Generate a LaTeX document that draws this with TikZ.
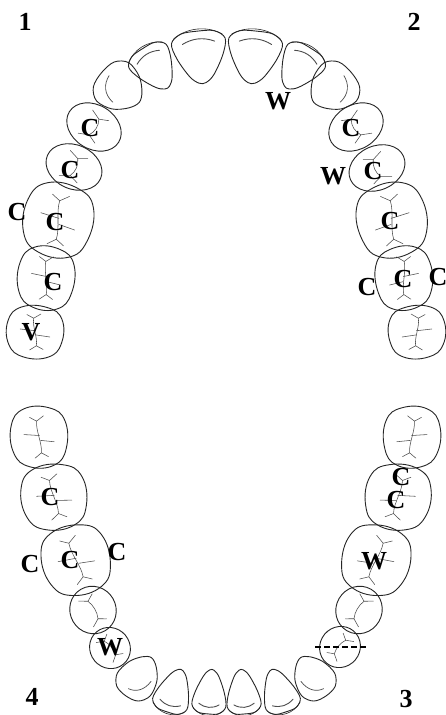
\documentclass[tikz,border=0pt]{standalone}
\usepackage{fontspec}
\setmainfont{Liberation Serif}
\newcommand\dMolar[5]{\begin{scope}[shift={(#1,#2)},rotate=#3,xscale=#4,yscale=#5]
\draw[toothline] plot[smooth cycle,tension=0.75] coordinates {(-1,-0.42)(-0.5,-0.97)(0.45,-1)(1,-0.5)(0.98,0.45)(0.5,1)(-0.45,0.98)(-1,0.5)};
\draw[fiss] (-0.55,0.05) .. controls (-0.2,0.1) and (0.2,-0.1) .. (0.55,-0.05);
\draw[fiss] (-0.55,0.05) -- (-0.72,-0.2) (-0.55,0.05) -- (-0.7,0.3);
\draw[fiss] (0.55,-0.05) -- (0.7,-0.3) (0.55,-0.05) -- (0.72,0.22);
\draw[fiss] (0.05,0.02) -- (0.12,-0.55);
\draw[fiss] (-0.12,0.05) -- (-0.2,0.55);
\end{scope}}
\newcommand\dPremolar[5]{\begin{scope}[shift={(#1,#2)},rotate=#3,xscale=#4,yscale=#5]
\draw[toothline] (0,0) circle[radius=1];
\draw[fiss] (-0.42,0) .. controls (-0.15,0.12) and (0.15,0.12) .. (0.42,0);
\draw[fiss] (-0.42,0) -- (-0.62,-0.35) (-0.42,0) -- (-0.6,0.32) (0.42,0) -- (0.62,-0.35) (0.42,0) -- (0.6,0.32);
\end{scope}}
\newcommand\dIncisor[5]{\begin{scope}[shift={(#1,#2)},rotate=#3,xscale=#4,yscale=#5]
\draw[toothline] plot[smooth cycle,tension=0.55] coordinates {(-1,-0.62)(-0.62,-0.95)(0,-1)(0.62,-0.95)(1,-0.62)(0.85,0)(0.45,0.72)(0.13,1)(-0.13,1)(-0.45,0.72)(-0.85,0)};
\draw[toothline,line width=0.6pt] (-0.92,-0.78) .. controls (-0.4,-1.18) and (0.4,-1.18) .. (0.92,-0.78);
\draw[fiss,line width=0.9pt] (-0.6,-0.55) .. controls (-0.2,-0.75) and (0.2,-0.75) .. (0.6,-0.55);
\end{scope}}
\newcommand\dCanine[5]{\begin{scope}[shift={(#1,#2)},rotate=#3,xscale=#4,yscale=#5]
\draw[toothline] plot[smooth cycle,tension=0.55] coordinates {(-1,-0.4)(-0.65,-0.88)(0,-1)(0.65,-0.88)(1,-0.4)(0.85,0.3)(0.45,0.8)(0.05,1)(-0.4,0.8)(-0.85,0.3)};
\draw[fiss,line width=0.7pt] (-0.62,0.15) .. controls (-0.6,-0.35) and (-0.3,-0.62) .. (0.1,-0.68);
\end{scope}}
\begin{document}
\begin{tikzpicture}[x=1pt,y=-1pt,
  toothline/.style={line width=0.9pt,draw=black!85,line join=round},
  fiss/.style={line width=0.55pt,draw=black!70,line cap=round},
  lab/.style={font=\fontsize{26}{26}\selectfont\bfseries,inner sep=0pt}]
\fill[white] (0,0) rectangle (446,715);
\useasboundingbox (0,0) rectangle (446,715);
\clip (0,0) rectangle (446,715);
% upper arch
\dIncisor{200}{57}{6}{27}{26}
\dIncisor{254}{57}{-6}{-27}{26}
\dIncisor{155}{68}{32}{22}{23}
\dIncisor{299}{68}{-32}{-22}{23}
\dCanine{120}{88}{50}{25}{24}
\dCanine{333}{88}{-50}{-25}{24}
\dPremolar{94}{127}{58}{22}{29}
\dPremolar{356}{127}{-58}{-22}{29}
\dPremolar{74}{167}{66}{22}{29}
\dPremolar{377}{168}{-66}{-22}{29}
\dMolar{58}{220}{80}{35}{33}
\dMolar{392}{220}{-80}{-35}{33}
\dMolar{46}{278}{86}{30}{27}
\dMolar{404}{278}{-86}{-30}{27}
\dMolar{35}{332}{90}{25}{27}
\dMolar{417}{332}{-90}{-25}{27}
% lower arch
\dMolar{39}{437}{94}{29}{27}
\dMolar{412}{437}{-94}{-29}{27}
\dMolar{54}{497}{100}{31}{31}
\dMolar{398}{497}{-100}{-31}{31}
\dMolar{76}{560}{108}{33}{32}
\dMolar{376}{560}{-108}{-33}{32}
\dPremolar{93}{610}{120}{24}{23}
\dPremolar{359}{610}{-120}{-24}{23}
\dPremolar{110}{648}{130}{21}{20}
\dPremolar{340}{647}{-130}{-21}{20}
\dCanine{139}{677}{145}{20}{23}
\dCanine{313}{677}{-145}{-20}{23}
\dIncisor{174}{691}{162}{18}{22}
\dIncisor{210}{692}{175}{17}{22}
\dIncisor{243}{692}{-175}{-17}{22}
\dIncisor{279}{691}{-162}{-18}{22}
% quadrant numbers
\node[lab] (q1) at (25,22) {1};
\node[lab] (q2) at (414,22) {2};
\node[lab] (q3) at (406,699) {3};
\node[lab] (q4) at (32,697) {4};
% upper labels
\node[lab] (uW1) at (278,101) {W};
\node[lab] (uC1) at (90,128) {C};
\node[lab] (uC2) at (70,170) {C};
\node[lab] (uC3) at (351,128) {C};
\node[lab] (uC4) at (373,171) {C};
\node[lab] (uW2) at (333,176) {W};
\node[lab] (uC5) at (17,212) {C};
\node[lab] (uC6) at (55,222) {C};
\node[lab] (uC7) at (53,282) {C};
\node[lab] (uV) at (31,332) {V};
\node[lab] (uC8) at (390,221) {C};
\node[lab] (uC9) at (403,279) {C};
\node[lab] (uC10) at (367,287) {C};
\node[lab] (uC11) at (438,277) {C};
% lower labels
\node[lab] (lC1) at (50,497) {C};
\node[lab] (lC2) at (30,564) {C};
\node[lab] (lC3) at (70,560) {C};
\node[lab] (lC4) at (117,552) {C};
\node[lab] (lW1) at (110,647) {W};
\node[lab] (lC5) at (401,477) {C};
\node[lab] (lC6) at (396,500) {C};
\node[lab] (lW2) at (374,561) {W};
\coordinate (d1) at (315,647);
\coordinate (d2) at (367,647);
\draw[line width=1.8pt,dash pattern=on 6pt off 3pt] (d1) -- (d2);
\end{tikzpicture}
\end{document}
